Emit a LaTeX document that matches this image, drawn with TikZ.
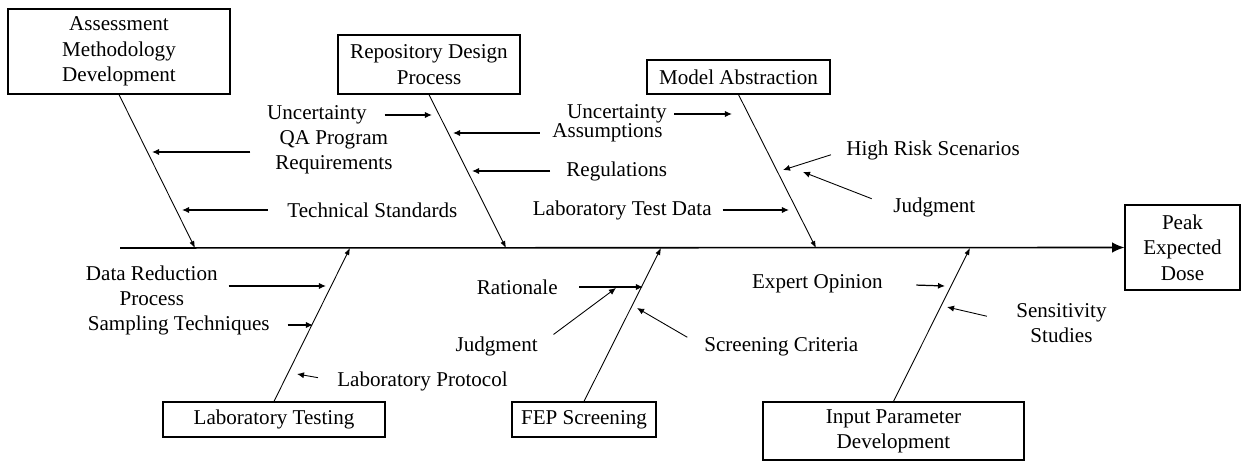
\documentclass[tikz,border=0pt]{standalone}
\usepackage{fontspec}
\setmainfont{Liberation Serif}
\usetikzlibrary{arrows.meta}
\tikzset{
	box/.style={draw, line width=0.7pt, align=center, inner sep=0pt},
	lbl/.style={align=center, inner sep=0pt},
	bone/.style={line width=0.5pt, -{Latex[length=4pt,width=3pt]}},
	feed/.style={line width=0.7pt, -{Latex[length=4pt,width=3.5pt]}},
	spine/.style={line width=0.9pt, -{Latex[length=7pt,width=6pt]}}
}
\begin{document}
\begin{tikzpicture}[x=0.02cm, y=-0.02cm, font=\fontsize{12}{14.4}\selectfont]
	\useasboundingbox (0,0) rectangle (1241,462);

	\node[box, minimum width=4.44cm, minimum height=1.7cm] (assess) at(119, 51.5){Assessment\\Methodology\\Development};
	\node[box, minimum width=3.64cm, minimum height=1.18cm] (repo) at(429, 64.5){Repository Design\\Process};
	\node[box, minimum width=3.66cm, minimum height=0.68cm] (model) at(738.5, 77){Model Abstraction};
	\node[box, minimum width=2.3cm, minimum height=1.7cm] (peak) at(1182.5, 247.5){Peak\\Expected\\Dose};
	\node[box, minimum width=4.44cm, minimum height=0.7cm] (lab) at(274, 419.5){Laboratory Testing};
	\node[box, minimum width=2.88cm, minimum height=0.7cm] (fep) at(584, 419.5){FEP Screening};
	\node[box, minimum width=5.22cm, minimum height=1.16cm] (input) at(893.5, 431){Input Parameter\\Development};

	% spine and bones
	\coordinate (tail) at(120, 248);
	\coordinate (h1) at(195, 248);
	\coordinate (h2) at(506, 248);
	\coordinate (h3) at(816, 248);
	\coordinate (h4) at(350, 248);
	\coordinate (h5) at(661, 248);
	\coordinate (h6) at(970, 248);
	\draw[spine] (tail) to (peak.west);
	\draw[bone] (assess.south) to (h1);
	\draw[bone] (repo.south) to (h2);
	\draw[bone] (model.south) to (h3);
	\draw[bone] (lab.north) to (h4);
	\draw[bone] (fep.north) to (h5);
	\draw[bone] (input.north) to (h6);

	% upper causes
		\node[lbl, anchor=east] (unc1) at(367, 115){Uncertainty};
		\coordinate (t-unc1) at(432, 115);
		\draw[feed, shorten <=10pt] (unc1.east) to (t-unc1);
		\node[lbl, anchor=west] (qa) at(275, 152){QA Program\\Requirements};
		\coordinate (t-qa) at(152, 152);
		\draw[feed, shorten <=14pt] (qa.west) to (t-qa);
		\node[lbl, anchor=west] (tech) at(287, 210){Technical Standards};
		\coordinate (t-tech) at(182, 210);
		\draw[feed, shorten <=11pt] (tech.west) to (t-tech);

		\node[lbl, anchor=east] (unc2) at(667, 114){Uncertainty};
		\coordinate (t-unc2) at(732, 114);
		\draw[feed, shorten <=4pt] (unc2.east) to (t-unc2);
		\node[lbl, anchor=west] (assum) at(552, 133){Assumptions};
		\coordinate (t-assum) at(453, 133);
		\draw[feed, shorten <=7pt] (assum.west) to (t-assum);
		\node[lbl, anchor=west] (regs) at(566, 171){Regulations};
		\coordinate (t-regs) at(472, 171);
		\draw[feed, shorten <=9pt] (regs.west) to (t-regs);
		\node[lbl, anchor=east] (ltd) at(712, 210){Laboratory Test Data};
		\coordinate (t-ltd) at(789, 210);
		\draw[feed, shorten <=6pt] (ltd.east) to (t-ltd);

		\node[lbl, anchor=west] (risk) at(846, 150){High Risk Scenarios};
		\coordinate (t-risk) at(783, 170);
		\draw[feed, line width=0.5pt, shorten <=9pt] (risk.west) to (t-risk);
		\node[lbl, anchor=west] (judg1) at(893, 207){Judgment};
		\coordinate (t-judg1) at(803, 172);
		\draw[feed, line width=0.5pt, shorten <=13pt] (judg1.west) to (t-judg1);

	% lower causes
		\node[lbl, anchor=east] (datared) at(218, 286){Data Reduction\\Process};
		\coordinate (t-datared) at(326, 286);
		\draw[feed, shorten <=6pt] (datared.east) to (t-datared);
		\node[lbl, anchor=east] (samp) at(270, 325){Sampling Techniques};
		\coordinate (t-samp) at(313, 325);
		\draw[feed, shorten <=10pt] (samp.east) to (t-samp);
		\node[lbl, anchor=west] (protocol) at(337, 381){Laboratory Protocol};
		\coordinate (t-protocol) at(297, 374);
		\draw[feed, line width=0.5pt, shorten <=11pt] (protocol.west) to (t-protocol);

		\node[lbl, anchor=east] (ration) at(558, 287){Rationale};
		\coordinate (t-ration) at(643, 287);
		\draw[feed, shorten <=12pt] (ration.east) to (t-ration);
		\node[lbl, anchor=east] (judg2) at(538, 346){Judgment};
		\coordinate (t-judg2) at(616, 288);
		\draw[feed, line width=0.5pt, shorten <=11pt] (judg2.east) to (t-judg2);
		\node[lbl, anchor=west] (screen) at(704, 347){Screening Criteria};
		\coordinate (t-screen) at(637, 308);
		\draw[feed, line width=0.5pt, shorten <=11pt] (screen.west) to (t-screen);

		\node[lbl, anchor=east] (expert) at(883, 284){Expert Opinion};
		\coordinate (t-expert) at(945, 286);
		\draw[feed, shorten <=19pt] (expert.east) to (t-expert);
		\node[lbl, anchor=west] (sens) at(1016, 323){Sensitivity\\Studies};
		\coordinate (t-sens) at(947, 307);
		\draw[feed, line width=0.5pt, shorten <=17pt] (sens.west) to (t-sens);
\end{tikzpicture}
\end{document}
